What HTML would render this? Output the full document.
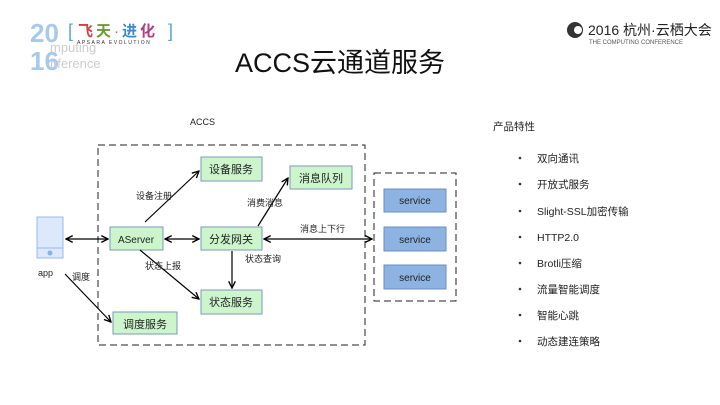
<!DOCTYPE html>
<html><head><meta charset="utf-8"><style>
body{margin:0;width:720px;height:405px;background:#fff;overflow:hidden;position:relative;font-family:"Liberation Sans","Noto Sans CJK SC",sans-serif}
</style></head><body>
<svg width="720" height="405" style="position:absolute;left:0;top:0" font-family="Liberation Sans, Noto Sans CJK SC, sans-serif">
<defs><marker id="a" viewBox="0 0 10 10" refX="9" refY="5" markerWidth="7" markerHeight="7" orient="auto-start-reverse"><path d="M1,1 L9,5 L1,9" fill="none" stroke="#000" stroke-width="1.6"/></marker></defs>
<text x="30" y="42" font-size="26" font-weight="bold" fill="#a8c8ec">20</text>
<text x="30" y="70" font-size="26" font-weight="bold" fill="#a8c8ec">16</text>
<text x="50" y="52" font-size="13" fill="#ccc">mputing</text>
<text x="50" y="68" font-size="13" fill="#ccc">nference</text>
<text x="68" y="37" font-size="18" fill="#5aa7d8">[</text>
<text x="78" y="36" font-size="15" font-weight="bold" fill="#d04040">飞</text>
<text x="96" y="36" font-size="15" font-weight="bold" fill="#6a9a30">天</text>
<text x="114" y="36" font-size="15" fill="#888">·</text>
<text x="122" y="36" font-size="15" font-weight="bold" fill="#3a8ac8">进</text>
<text x="140" y="36" font-size="15" font-weight="bold" fill="#b04080">化</text>
<text x="168" y="37" font-size="18" fill="#5aa7d8">]</text>
<text x="77" y="44" font-size="5" fill="#333" letter-spacing="1.5">APSARA EVOLUTION</text>
<circle cx="575" cy="30" r="8" fill="#333"/><circle cx="578" cy="30" r="4" fill="#fff"/>
<text x="588" y="35" font-size="14" fill="#222">2016 杭州·云栖大会</text>
<text x="589" y="44" font-size="6" fill="#555">THE COMPUTING CONFERENCE</text>
<rect x="98" y="145" width="267" height="200" fill="none" stroke="#222" stroke-dasharray="7,4"/>
<rect x="374" y="173" width="82" height="128" fill="none" stroke="#222" stroke-dasharray="7,4"/>
<g fill="#8db3e2" stroke="#6a8fc0"><rect x="384" y="189" width="62" height="23"/><rect x="384" y="227" width="62" height="24"/><rect x="384" y="265" width="62" height="24"/></g>
<g font-size="10" text-anchor="middle" fill="#222"><text x="415" y="204">service</text><text x="415" y="243">service</text><text x="415" y="281">service</text></g>
<g fill="#ccf5cc" stroke="#7a9aba"><rect x="201" y="157" width="61" height="24"/><rect x="290" y="166" width="62" height="23"/><rect x="110" y="227" width="53" height="23"/><rect x="201" y="227" width="61" height="23"/><rect x="201" y="290" width="61" height="24"/><rect x="113" y="312" width="64" height="22"/></g>
<g font-size="11" text-anchor="middle" fill="#222"><text x="231" y="173">设备服务</text><text x="321" y="182">消息队列</text><text x="136" y="243" font-size="10">AServer</text><text x="231" y="243">分发网关</text><text x="231" y="306">状态服务</text><text x="145" y="328">调度服务</text></g>
<rect x="37" y="217" width="26" height="41" fill="#dce8fb" stroke="#9ab8e8"/><line x1="37" y1="248" x2="63" y2="248" stroke="#9ab8e8"/><circle cx="50" cy="253" r="2.5" fill="#8ab0e8"/>
<g stroke="#000" stroke-width="1.2" marker-end="url(#a)" fill="none">
<line x1="66" y1="239" x2="108" y2="239" marker-start="url(#a)"/>
<line x1="165" y1="239" x2="199" y2="239" marker-start="url(#a)"/>
<line x1="264" y1="239" x2="372" y2="239" marker-start="url(#a)"/>
<line x1="145" y1="222" x2="199" y2="171"/>
<line x1="258" y1="226" x2="288" y2="178"/>
<line x1="140" y1="250" x2="199" y2="299"/>
<line x1="232" y1="251" x2="232" y2="288"/>
<line x1="65" y1="274" x2="111" y2="322"/>
</g>
<g font-size="9" fill="#222"><text x="136" y="199">设备注册</text><text x="247" y="206">消费消息</text><text x="300" y="232">消息上下行</text><text x="245" y="262">状态查询</text><text x="145" y="269">状态上报</text><text x="72" y="280">调度</text><text x="38" y="276">app</text><text x="190" y="125">ACCS</text></g>
<text x="340" y="72" font-size="27" text-anchor="middle" fill="#111">ACCS云通道服务</text>
<g font-size="10.5" fill="#222"><text x="493" y="130">产品特性</text>
<text x="537" y="162">双向通讯</text><text x="537" y="188">开放式服务</text><text x="537" y="215">Slight-SSL加密传输</text><text x="537" y="241">HTTP2.0</text><text x="537" y="267">Brotli压缩</text><text x="537" y="293">流量智能调度</text><text x="537" y="319">智能心跳</text><text x="537" y="345">动态建连策略</text></g>
<g fill="#333"><circle cx="520" cy="158" r="1.3"/><circle cx="520" cy="184" r="1.3"/><circle cx="520" cy="211" r="1.3"/><circle cx="520" cy="237" r="1.3"/><circle cx="520" cy="263" r="1.3"/><circle cx="520" cy="289" r="1.3"/><circle cx="520" cy="315" r="1.3"/><circle cx="520" cy="341" r="1.3"/></g>
</svg>
</body></html>
